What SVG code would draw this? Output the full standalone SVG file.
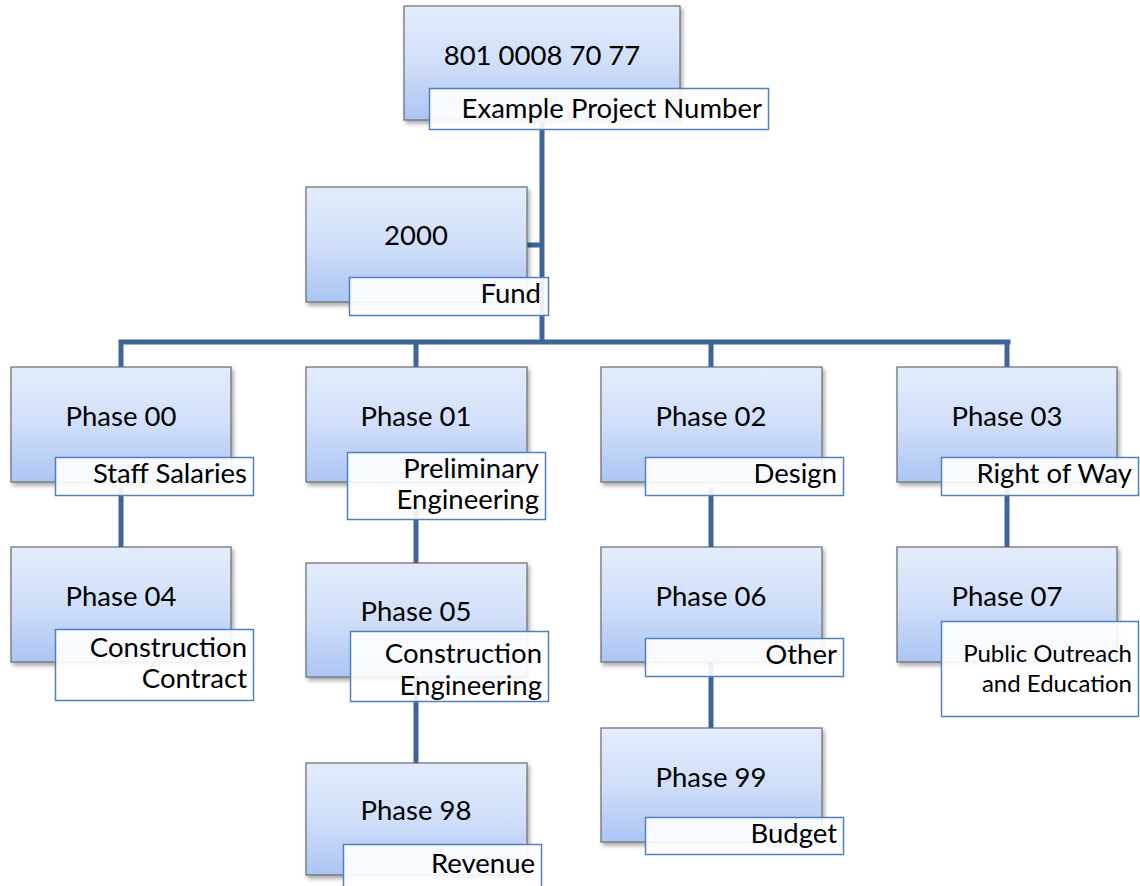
<svg xmlns="http://www.w3.org/2000/svg" width="1140" height="886" viewBox="0 0 1140 886">
<defs>
<linearGradient id="g" x1="0" y1="0" x2="0" y2="1">
<stop offset="0" stop-color="#e3edfc"/>
<stop offset="0.5" stop-color="#d0def9"/>
<stop offset="1" stop-color="#abc5f4"/>
</linearGradient>
<filter id="sh" x="-10%" y="-10%" width="130%" height="130%">
<feDropShadow dx="2" dy="3" stdDeviation="2" flood-color="#000" flood-opacity="0.35"/>
</filter>
<style>
.box{fill:url(#g);stroke:#6b6b6b;stroke-width:1.2;filter:url(#sh)}
.lbl{fill:#ffffff;fill-opacity:0.9;stroke:#4f81bd;stroke-width:1.5}
.t{font-family:Lato,"Liberation Sans",sans-serif;font-size:27.5px;fill:#000}
.m{text-anchor:middle}
.r{text-anchor:end}
.s{font-size:24px}
.c{stroke:#3e6597;stroke-width:5;fill:none;stroke-linecap:square}
</style>
</defs>
<g id="connectors">
<path class="c" d="M542 125 V342 M527 245 H542 M121 342 H1008 M121 342 V367 M416 342 V367 M711 342 V367 M1007 342 V367"/>
<path class="c" d="M121 490 V547 M416 500 V763 M711 490 V728 M1007 490 V547"/>
</g>
<g id="n-top">
<rect class="box" x="404" y="6" width="276" height="114"/>
<text class="t m" x="542" y="65">801 0008 70 77</text>
<rect class="lbl" x="429.5" y="88.5" width="339" height="41"/>
<text class="t r" x="762" y="118">Example Project Number</text>
</g>
<g id="n-fund">
<rect class="box" x="306" y="187" width="221" height="115"/>
<text class="t m" x="416" y="245">2000</text>
<rect class="lbl" x="349.5" y="277.5" width="199" height="38"/>
<text class="t r" x="541" y="303">Fund</text>
</g>
<g id="n-p00">
<rect class="box" x="11" y="367" width="220" height="115"/>
<text class="t m" x="121" y="426">Phase 00</text>
<rect class="lbl" x="55.5" y="457.5" width="198" height="38"/>
<text class="t r" x="247" y="483">Staff Salaries</text>
</g>
<g id="n-p01">
<rect class="box" x="306" y="367" width="221" height="115"/>
<text class="t m" x="416" y="426">Phase 01</text>
<rect class="lbl" x="347.5" y="452.5" width="198" height="67"/>
<text class="t r" x="539" y="478">Preliminary</text>
<text class="t r" x="539" y="509">Engineering</text>
</g>
<g id="n-p02">
<rect class="box" x="601" y="367" width="221" height="115"/>
<text class="t m" x="711" y="426">Phase 02</text>
<rect class="lbl" x="645.5" y="457.5" width="198" height="38"/>
<text class="t r" x="837" y="483">Design</text>
</g>
<g id="n-p03">
<rect class="box" x="897" y="367" width="220" height="115"/>
<text class="t m" x="1007" y="426">Phase 03</text>
<rect class="lbl" x="941.5" y="457.5" width="197" height="38"/>
<text class="t r" x="1132" y="483">Right of Way</text>
</g>
<g id="n-p04">
<rect class="box" x="11" y="547" width="220" height="115"/>
<text class="t m" x="121" y="606">Phase 04</text>
<rect class="lbl" x="55.5" y="629.5" width="198" height="71"/>
<text class="t r" x="247" y="657">Construction</text>
<text class="t r" x="247" y="688">Contract</text>
</g>
<g id="n-p05">
<rect class="box" x="306" y="563" width="221" height="114"/>
<text class="t m" x="416" y="621">Phase 05</text>
<rect class="lbl" x="350.5" y="631.5" width="198" height="70"/>
<text class="t r" x="542" y="663">Construction</text>
<text class="t r" x="542" y="695">Engineering</text>
</g>
<g id="n-p06">
<rect class="box" x="601" y="547" width="221" height="115"/>
<text class="t m" x="711" y="606">Phase 06</text>
<rect class="lbl" x="645.5" y="638.5" width="198" height="38"/>
<text class="t r" x="837" y="664">Other</text>
</g>
<g id="n-p07">
<rect class="box" x="897" y="547" width="220" height="115"/>
<text class="t m" x="1007" y="606">Phase 07</text>
<rect class="lbl" x="941.5" y="621.5" width="197" height="95"/>
<text class="t r s" x="1132" y="662">Public Outreach</text>
<text class="t r s" x="1132" y="692">and Education</text>
</g>
<g id="n-p98">
<rect class="box" x="306" y="763" width="221" height="112"/>
<text class="t m" x="416" y="820">Phase 98</text>
<rect class="lbl" x="343.5" y="844.5" width="198" height="46"/>
<text class="t r" x="535" y="873">Revenue</text>
</g>
<g id="n-p99">
<rect class="box" x="601" y="728" width="221" height="114"/>
<text class="t m" x="711" y="787">Phase 99</text>
<rect class="lbl" x="645.5" y="817.5" width="198" height="37"/>
<text class="t r" x="837" y="843">Budget</text>
</g>
</svg>
